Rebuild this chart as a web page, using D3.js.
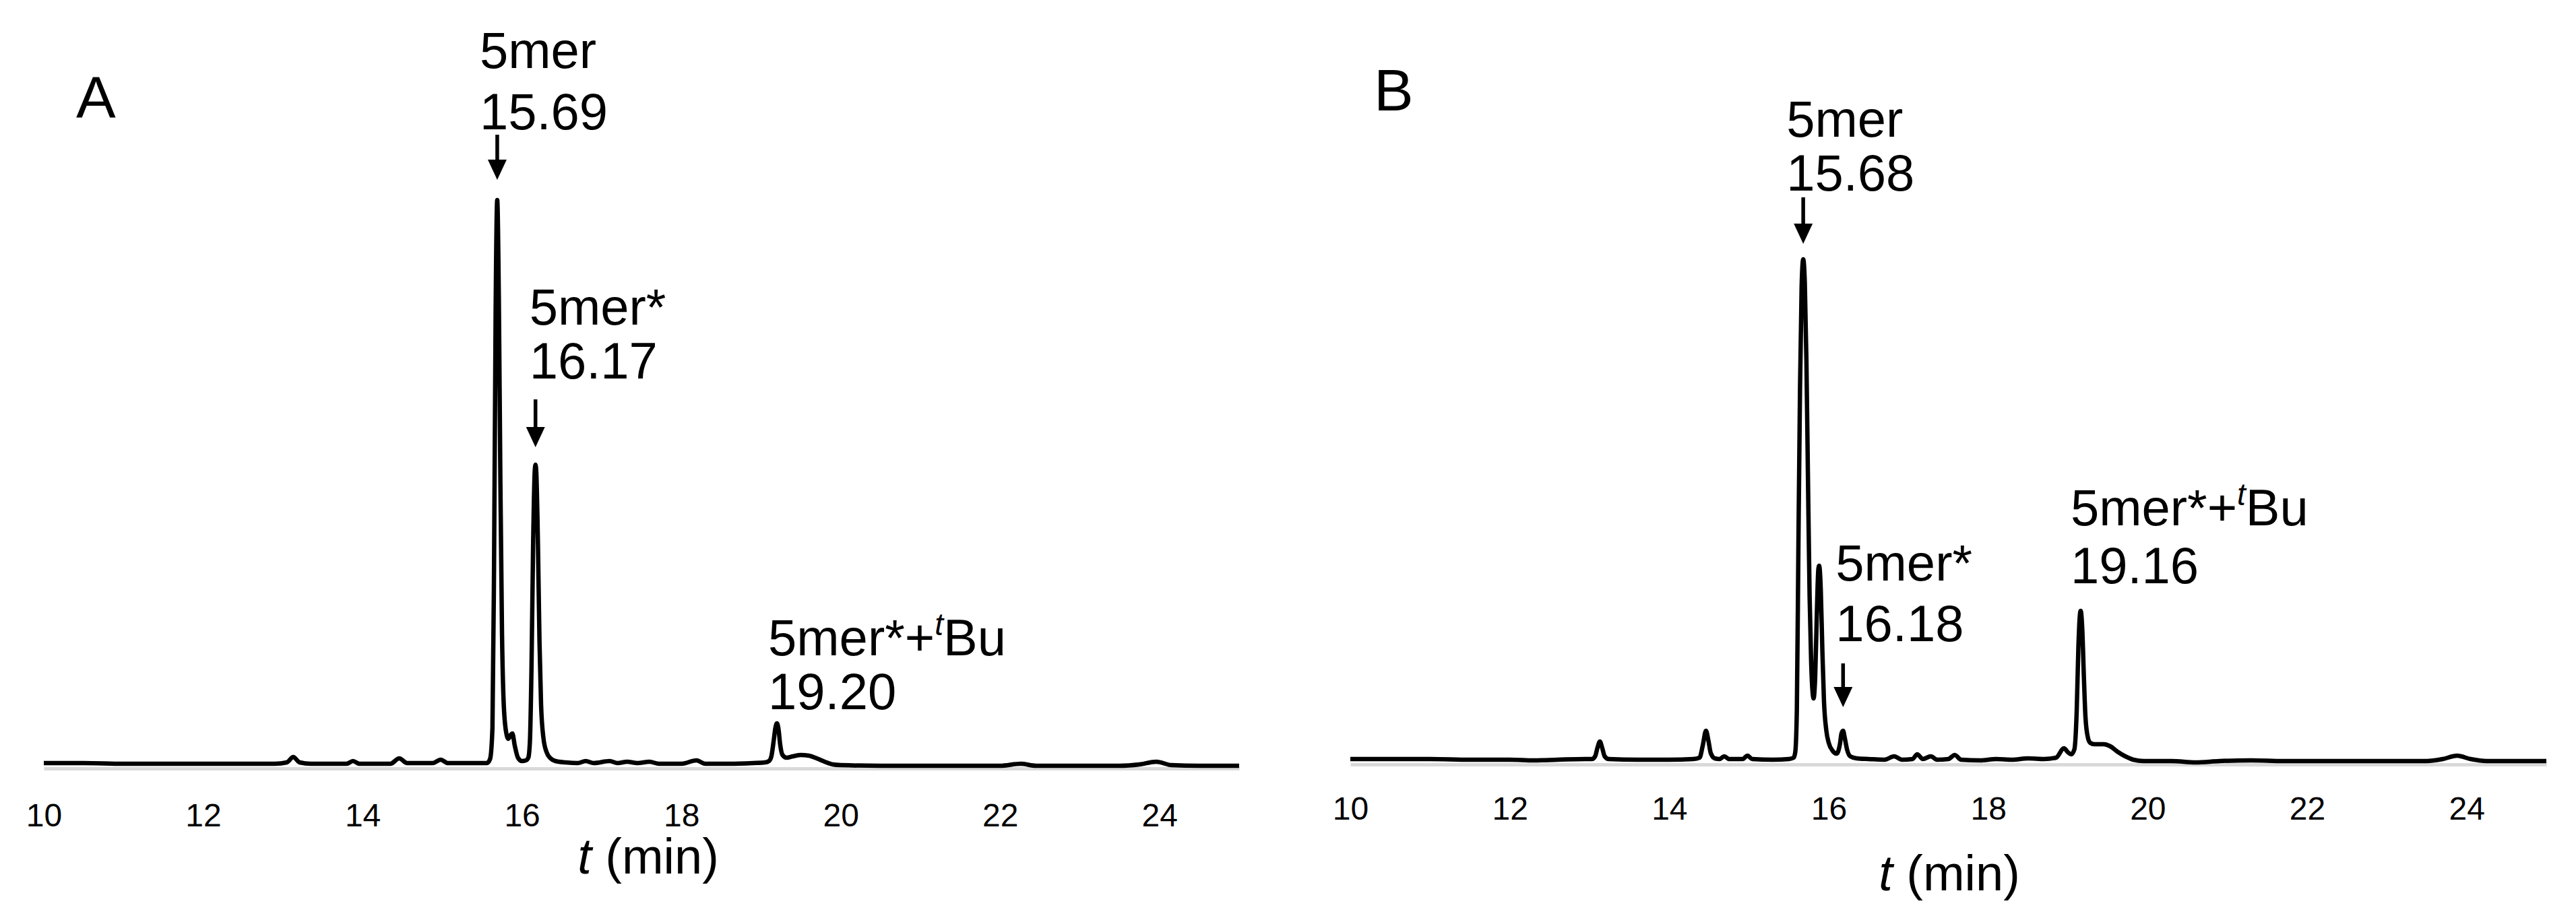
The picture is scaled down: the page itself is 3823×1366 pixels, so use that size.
<!DOCTYPE html>
<html>
<head>
<meta charset="utf-8">
<script src="https://cdn.jsdelivr.net/npm/d3@7"></script>
<style>
  html, body { margin: 0; padding: 0; background: #fff; }
  svg { display: block; }
  text { font-family: "Liberation Sans", Arial, Helvetica, sans-serif; fill: #000; }
</style>
</head>
<body>
<div id="chart"></div>
<script>
// chromatograms (signal in arbitrary units above the axis)
const timeA = [10.0, 10.5, 11.0, 11.5, 12.0, 12.5, 12.9, 13.05, 13.13, 13.21, 13.35, 13.8, 13.88, 13.96, 14.35, 14.46, 14.56, 14.88, 14.98, 15.07,
  15.4, 15.56, 15.6, 15.63, 15.65, 15.67, 15.69, 15.71, 15.73, 15.75, 15.77, 15.8, 15.83, 15.86, 15.88, 15.91, 15.95, 16.0, 16.05, 16.08,
  16.1, 16.12, 16.14, 16.16, 16.17, 16.18, 16.2, 16.22, 16.24, 16.27, 16.31, 16.36, 16.42, 16.55, 16.7, 16.8, 16.9, 17.1, 17.2, 17.32,
  17.45, 17.6, 17.72, 18.0, 18.19, 18.3, 18.6, 18.9, 19.05, 19.1, 19.13, 19.16, 19.18, 19.2, 19.22, 19.24, 19.27, 19.32, 19.4, 19.5,
  19.6, 19.7, 19.8, 19.9, 20.0, 20.5, 21.0, 21.5, 22.0, 22.26, 22.45, 23.0, 23.5, 23.75, 23.96, 24.15, 24.5, 25.0];
const signalA = [8, 8, 7, 7, 7, 7, 7, 9, 17, 9, 7, 7, 11, 7, 7, 15, 8, 8, 13, 8,
  8, 8, 14, 60, 300, 680, 844, 700, 420, 200, 100, 55, 44, 50, 52, 34, 16, 11, 12, 16,
  40, 150, 330, 440, 451, 440, 340, 190, 95, 45, 24, 15, 11, 9, 8, 11, 8, 11, 8, 10,
  8, 10, 7, 7, 12, 7, 7, 8, 9, 11, 18, 42, 60, 67, 58, 36, 20, 16, 18, 20,
  19, 15, 10, 6, 5, 4, 4, 4, 4, 7, 4, 4, 4, 6, 10, 5, 4, 4];

const timeB = [10.0, 10.5, 11.0, 11.5, 12.0, 12.3, 12.6, 12.95, 13.03, 13.07, 13.1, 13.13, 13.16, 13.19, 13.24, 13.6, 14.0, 14.3, 14.38, 14.42,
  14.46, 14.49, 14.52, 14.57, 14.63, 14.69, 14.75, 14.92, 14.98, 15.04, 15.3, 15.5, 15.56, 15.58, 15.6, 15.62, 15.64, 15.66, 15.68, 15.7,
  15.72, 15.74, 15.76, 15.78, 15.8, 15.81, 15.83, 15.85, 15.87, 15.88, 15.9, 15.92, 15.94, 15.97, 16.0, 16.05, 16.1, 16.14, 16.16, 16.18,
  16.2, 16.23, 16.27, 16.35, 16.5, 16.7, 16.82, 16.92, 17.05, 17.11, 17.18, 17.28, 17.36, 17.5, 17.58, 17.66, 17.9, 18.1, 18.3, 18.5,
  18.7, 18.85, 18.95, 19.0, 19.04, 19.08, 19.11, 19.13, 19.15, 19.16, 19.18, 19.2, 19.22, 19.25, 19.28, 19.33, 19.45, 19.53, 19.62, 19.72,
  19.82, 19.95, 20.3, 20.6, 20.9, 21.3, 21.7, 22.5, 23.0, 23.5, 23.7, 23.88, 24.05, 24.25, 24.6, 25.0];
const signalB = [8, 8, 8, 7, 7, 6, 7, 8, 8, 12, 25, 34, 24, 12, 8, 7, 7, 8, 10, 28,
  50, 36, 17, 9, 8, 12, 8, 8, 13, 8, 7, 8, 10, 18, 80, 330, 560, 710, 750, 715,
  600, 420, 250, 150, 104, 98, 130, 220, 290, 295, 260, 170, 95, 50, 32, 20, 16, 30, 46, 50,
  40, 22, 12, 9, 8, 7, 12, 7, 8, 15, 8, 12, 7, 8, 14, 7, 6, 8, 7, 9,
  8, 10, 24, 18, 15, 22, 80, 170, 222, 228, 200, 130, 70, 40, 32, 30, 30, 27, 19, 12,
  7, 5, 5, 3, 5, 6, 5, 5, 5, 5, 8, 13, 8, 5, 5, 5];

const tickValues = [10, 12, 14, 16, 18, 20, 22, 24];

// peak annotations
const peakNamesA = ["5mer", "5mer*", "5mer*+tBu"];
const peakTimesA = [15.69, 16.17, 19.20];
const peakNamesB = ["5mer", "5mer*", "5mer*+tBu"];
const peakTimesB = [15.68, 16.18, 19.16];

const width = 3823;
const height = 1366;

const svg = d3.select("#chart")
  .append("svg")
  .attr("width", width)
  .attr("height", height);

svg.append("rect").attr("width", width).attr("height", height).attr("fill", "#fff");

const panels = [
  {
    letter: "A", time: timeA, signal: signalA, names: peakNamesA, rts: peakTimesA,
    left: 65, right: 1839, axisY: 1141, tickY: 1227, titleX: 962, titleY: 1297, letterX: 113, letterY: 175,
    // label placement: x offset from peak, two baselines, arrow start/end
    place: [
      { dx: -26, y1: 101, y2: 192, arrow: [200, 267] },
      { dx: -9, y1: 482, y2: 562, arrow: [593, 664] },
      { dx: -13, y1: 973, y2: 1053, arrow: null }
    ]
  },
  {
    letter: "B", time: timeB, signal: signalB, names: peakNamesB, rts: peakTimesB,
    left: 2004, right: 3779, axisY: 1135, tickY: 1217, titleX: 2893, titleY: 1322, letterX: 2039, letterY: 164,
    place: [
      { dx: -25, y1: 203, y2: 283, arrow: [293, 362] },
      { dx: -11, y1: 862, y2: 952, arrow: [985, 1050] },
      { dx: -15, y1: 780, y2: 866, arrow: null }
    ]
  }
];

panels.forEach(p => {
  const x = d3.scaleLinear().domain([10, 25]).range([p.left, p.right]);
  const y = d3.scaleLinear().domain([0, 1000]).range([p.axisY, p.axisY - 1000]);
  const g = svg.append("g");

  // axis: light grey baseline, labels only
  const axis = g.append("g")
    .attr("transform", `translate(0,${p.axisY})`)
    .call(d3.axisBottom(x).tickValues(tickValues).tickSize(0).tickPadding(p.tickY - p.axisY));
  axis.select(".domain").attr("stroke", "#d9d9d9").attr("stroke-width", 5);
  axis.selectAll("text")
    .attr("dy", 0)
    .attr("font-size", 48)
    .attr("font-family", "\"Liberation Sans\", Arial, sans-serif")
    .attr("fill", "#000");

  const title = g.append("text")
    .attr("x", p.titleX)
    .attr("y", p.titleY)
    .attr("text-anchor", "middle")
    .attr("font-size", 74);
  title.append("tspan").attr("font-style", "italic").text("t");
  title.append("tspan").text(" (min)");

  g.append("text")
    .attr("x", p.letterX)
    .attr("y", p.letterY)
    .attr("font-size", 88)
    .text(p.letter);

  // trace
  const pts = p.time.map((t, i) => [t, p.signal[i]]);
  g.append("path")
    .datum(pts)
    .attr("fill", "none")
    .attr("stroke", "#000")
    .attr("stroke-width", 6.5)
    .attr("stroke-linejoin", "round")
    .attr("d", d3.line().x(d => x(d[0])).y(d => y(d[1])).curve(d3.curveMonotoneX));

  // peak labels and arrows
  p.names.forEach((name, i) => {
    const pl = p.place[i];
    const px = x(p.rts[i]);
    const t1 = g.append("text")
      .attr("x", px + pl.dx)
      .attr("y", pl.y1)
      .attr("font-size", 76);
    const m = name.match(/^(.*\+)t(Bu)$/);
    if (m) {
      t1.append("tspan").text(m[1]);
      t1.append("tspan").attr("font-style", "italic").attr("font-size", 46).attr("dy", -30).text("t");
      t1.append("tspan").attr("dy", 30).text(m[2]);
    } else {
      t1.text(name);
    }
    g.append("text")
      .attr("x", px + pl.dx)
      .attr("y", pl.y2)
      .attr("font-size", 76)
      .text(p.rts[i].toFixed(2));

    if (pl.arrow) {
      const head = 30;
      g.append("line")
        .attr("x1", px).attr("x2", px)
        .attr("y1", pl.arrow[0]).attr("y2", pl.arrow[1] - head + 2)
        .attr("stroke", "#000")
        .attr("stroke-width", 5.5);
      g.append("path")
        .attr("d", `M${px - 14},${pl.arrow[1] - head}L${px + 14},${pl.arrow[1] - head}L${px},${pl.arrow[1]}Z`)
        .attr("fill", "#000");
    }
  });
});
</script>
</body>
</html>
